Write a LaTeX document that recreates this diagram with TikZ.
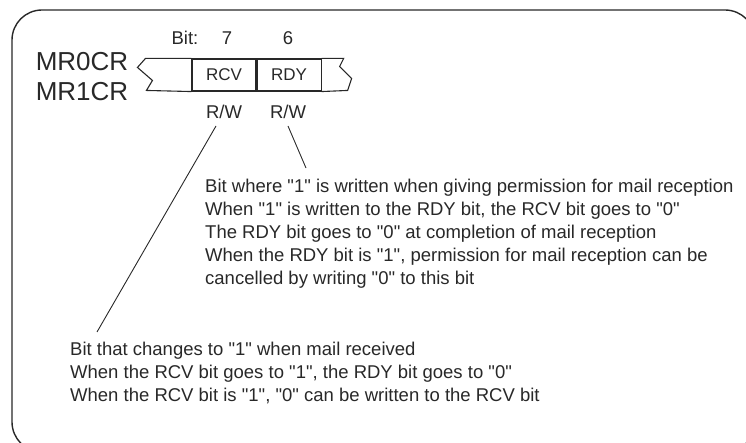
\documentclass[tikz,border=0pt]{standalone}
\usepackage{fontspec}
\setmainfont{Liberation Sans}[Ligatures=TeXOff]
\usepackage{xcolor}
\usetikzlibrary{positioning}
\definecolor{inkgray}{RGB}{40,40,40}

\begin{document}
\begin{tikzpicture}[x=1pt, y=-1pt,
  txt/.style={text=inkgray, inner sep=0pt, font=\fontsize{18.5}{23}\selectfont},
  regname/.style={text=inkgray, inner sep=0pt, font=\fontsize{26}{30}\selectfont},
  cell/.style={draw=inkgray, line width=1.1pt, text=inkgray, minimum width=64pt,
               minimum height=32pt, inner sep=0pt, font=\fontsize{17}{20}\selectfont},
  note/.style={txt, align=left, anchor=north west},
  leader/.style={draw=inkgray, line width=0.9pt}
]
\useasboundingbox (0,0) rectangle (746,443);
\clip (0,0) rectangle (746,443);
\draw[inkgray, line width=1.4pt, rounded corners=30pt] (12,10) rectangle (755,452);

\node[regname] (mr0) at (82,62) {MR0CR};
\node[regname] (mr1) at (82,92) {MR1CR};

\node[cell] (rcv) at (224,75) {RCV};
\node[cell, right=0pt of rcv] (rdy) {RDY};
\draw[inkgray, line width=1.1pt] (rcv.north west) -- ++(-46,0) -- ++(-8,9) -- ++(15,13)
  -- ++(-6,10) -- (rcv.south west);
\draw[inkgray, line width=1.1pt] (rdy.north east) -- ++(22,0) -- ++(-4,8) -- ++(12,12)
  -- ++(-4,12) -- (rdy.south east);

\node[txt] (bitlbl) at (185,38) {Bit:};
\node[txt] (bit7) at (227,38) {7};
\node[txt] (bit6) at (288,38) {6};
\node[txt] (rw7) at (224,112) {R/W};
\node[txt] (rw6) at (288,112) {R/W};

\node[note] (rdynote) at (205,179)
  {Bit where "1" is written when giving permission for mail reception\\
   When "1" is written to the RDY bit, the RCV bit goes to "0"\\
   The RDY bit goes to "0" at completion of mail reception\\
   When the RDY bit is "1", permission for mail reception can be\\
   cancelled by writing "0" to this bit};
\node[note] (rcvnote) at (70,342)
  {Bit that changes to "1" when mail received\\
   When the RCV bit goes to "1", the RDY bit goes to "0"\\
   When the RCV bit is "1", "0" can be written to the RCV bit};

\coordinate (rcvend) at (97,332);
\coordinate (rdyend) at (306,168);
\draw[leader] ([xshift=-8pt,yshift=-7pt]rw7.south) -- (rcvend);
\draw[leader] ([yshift=-7pt]rw6.south) -- (rdyend);
\end{tikzpicture}
\end{document}
